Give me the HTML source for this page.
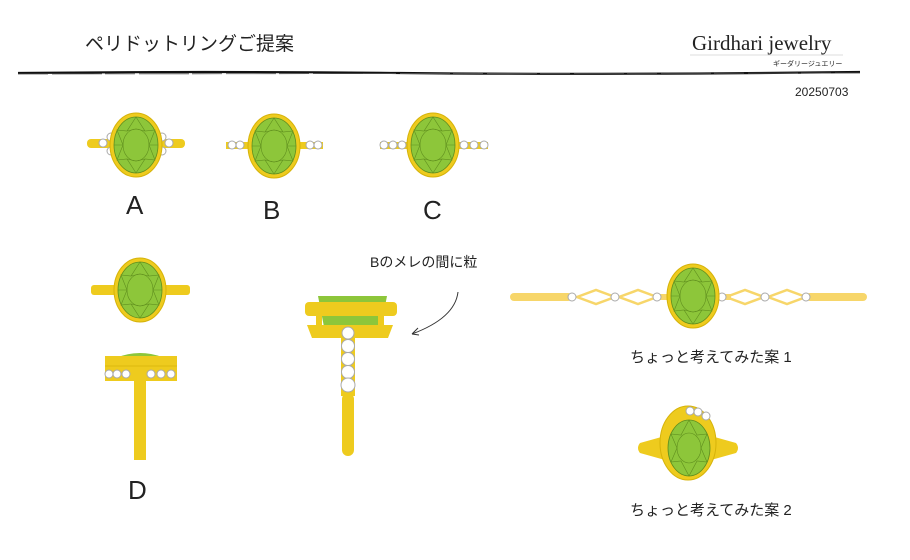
<!DOCTYPE html>
<html><head><meta charset="utf-8"><style>
html,body{margin:0;padding:0;background:#fff}
svg{display:block}
text{font-family:"Liberation Sans","Noto Sans CJK JP",sans-serif;fill:#222}
</style></head><body>
<svg width="910" height="560" viewBox="0 0 910 560" xmlns="http://www.w3.org/2000/svg">
<defs>
<g id="gem">
<ellipse rx="26" ry="32" fill="#eecb1e" stroke="#d6b30a" stroke-width="1"/>
<ellipse rx="22" ry="28" fill="#8dc63a" stroke="#5f8e1e" stroke-width="0.8"/>
<g fill="none" stroke="#5f8e1e" stroke-width="0.6">
<ellipse rx="13" ry="16"/>
<path d="M0,-28 L9,-14 L19,-15 L13,0 L19,15 L9,14 L0,28 L-9,14 L-19,15 L-13,0 L-19,-15 L-9,-14 Z"/>
<path d="M0,-16 L9,-14 M0,-16 L-9,-14 M13,0 L22,0 M-13,0 L-22,0 M0,16 L9,14 M0,16 L-9,14"/>
</g>
</g>
<g id="st"><circle r="4" fill="#fff" stroke="#aaa" stroke-width="1"/></g>
</defs>

<!-- header -->
<text x="85" y="50" font-size="19">ペリドットリングご提案</text>
<text x="692" y="50" font-size="21" style="font-family:'Liberation Serif',serif">Girdhari jewelry</text>
<line x1="690" y1="55" x2="843" y2="55" stroke="#ddd" stroke-width="1"/>
<text x="773" y="66" font-size="7">ギーダリージュエリー</text>
<path d="M18,73 Q200,71 400,73 T860,72" stroke="#111" stroke-width="2.2" fill="none"/>
<path d="M18,74 L860,73" stroke="#555" stroke-width="0.8" fill="none" stroke-dasharray="30 4 50 3"/>
<text x="795" y="96" font-size="12">20250703</text>

<!-- A -->
<rect x="87" y="139" width="98" height="9" rx="4" fill="#eecb1e"/>
<use href="#st" x="103" y="143"/><use href="#st" x="111" y="137"/><use href="#st" x="111" y="151"/>
<use href="#st" x="169" y="143"/><use href="#st" x="162" y="137"/><use href="#st" x="162" y="151"/>
<use href="#gem" x="136" y="145"/>
<text x="126" y="214" font-size="26">A</text>

<!-- B -->
<rect x="226" y="142" width="97" height="7" fill="#eecb1e"/>
<use href="#st" x="232" y="145"/><use href="#st" x="240" y="145"/><use href="#st" x="310" y="145"/><use href="#st" x="318" y="145"/>
<use href="#gem" x="274" y="146"/>
<text x="263" y="219" font-size="26">B</text>

<!-- C -->
<rect x="380" y="142" width="108" height="7" fill="#eecb1e"/>
<use href="#st" x="384" y="145"/><use href="#st" x="393" y="145"/><use href="#st" x="402" y="145"/>
<use href="#st" x="464" y="145"/><use href="#st" x="474" y="145"/><use href="#st" x="484" y="145"/>
<use href="#gem" x="433" y="145"/>
<text x="423" y="219" font-size="26">C</text>

<!-- D top -->
<rect x="91" y="285" width="99" height="10" rx="3" fill="#eecb1e"/>
<use href="#gem" x="140" y="290"/>
<!-- D side -->
<path d="M118,357 Q140,349 162,357 Z" fill="#8dc63a"/>
<rect x="105" y="356" width="72" height="8" fill="#eecb1e"/>
<rect x="105" y="364" width="72" height="17" fill="#eecb1e"/>
<line x1="105" y1="366" x2="177" y2="366" stroke="#c9a800" stroke-width="0.6"/>
<use href="#st" x="109" y="374"/><use href="#st" x="117" y="374"/><use href="#st" x="126" y="374"/>
<use href="#st" x="151" y="374"/><use href="#st" x="161" y="374"/><use href="#st" x="171" y="374"/>
<rect x="134" y="375" width="12" height="85" fill="#eecb1e"/>
<text x="128" y="499" font-size="26">D</text>

<!-- middle side -->
<path d="M318,296 L387,296 L380,332 L325,332 Z" fill="#8dc63a"/>
<rect x="305" y="302" width="92" height="14" rx="4" fill="#eecb1e"/>
<path d="M307,325 L393,325 L388,338 L312,338 Z" fill="#eecb1e"/>
<rect x="316" y="316" width="6" height="10" fill="#eecb1e"/><rect x="378" y="316" width="6" height="10" fill="#eecb1e"/>
<rect x="341" y="328" width="14" height="68" fill="#eecb1e"/>
<g><circle cx="348" cy="333" r="6" fill="#fff" stroke="#aaa"/><circle cx="348" cy="346" r="6.5" fill="#fff" stroke="#aaa"/><circle cx="348" cy="359" r="6.5" fill="#fff" stroke="#aaa"/><circle cx="348" cy="372" r="6.5" fill="#fff" stroke="#aaa"/><circle cx="348" cy="385" r="7" fill="#fff" stroke="#aaa"/></g>
<rect x="342" y="393" width="12" height="63" rx="6" fill="#eecb1e"/>
<text x="370" y="267" font-size="14">Bのメレの間に粒</text>
<path d="M458,292 Q455,318 412,334 M412,334 L418,328 M412,334 L419,335" stroke="#333" stroke-width="1" fill="none"/>

<!-- case 1 -->
<rect x="510" y="293" width="62" height="8" rx="4" fill="#f7d66a"/>
<rect x="806" y="293" width="61" height="8" rx="4" fill="#f7d66a"/>
<rect x="655" y="294" width="20" height="6" fill="#f7d66a"/>
<rect x="711" y="294" width="20" height="6" fill="#f7d66a"/>
<g fill="none" stroke="#f7d66a" stroke-width="2.5">
<path d="M577,297 L596,290 L615,297 L596,304 Z"/><path d="M619,297 L638,290 L657,297 L638,304 Z"/>
<path d="M726,297 L745,290 L764,297 L745,304 Z"/><path d="M768,297 L787,290 L806,297 L787,304 Z"/>
</g>
<use href="#st" x="572" y="297"/><use href="#st" x="615" y="297"/><use href="#st" x="657" y="297"/>
<use href="#st" x="722" y="297"/><use href="#st" x="765" y="297"/><use href="#st" x="806" y="297"/>
<use href="#gem" x="693" y="296"/>
<text x="630" y="362" font-size="15">ちょっと考えてみた案 1</text>

<!-- case 2 -->
<path d="M665,436 L640,443 Q636,448 640,453 L665,460 Z" fill="#eecb1e"/>
<path d="M711,436 L736,443 Q740,448 736,453 L711,460 Z" fill="#eecb1e"/>
<ellipse cx="688" cy="443" rx="28" ry="37" fill="#eecb1e" stroke="#d6b30a"/>
<g transform="translate(689,448)">
<ellipse rx="21" ry="28" fill="#8dc63a" stroke="#5f8e1e" stroke-width="0.8"/>
<g fill="none" stroke="#5f8e1e" stroke-width="0.6"><ellipse rx="12" ry="15"/><path d="M0,-28 L8,-13 L18,-14 L12,0 L18,14 L8,13 L0,28 L-8,13 L-18,14 L-12,0 L-18,-14 L-8,-13 Z"/></g>
</g>
<use href="#st" x="690" y="411"/><use href="#st" x="698" y="412"/><use href="#st" x="706" y="416"/>
<text x="630" y="515" font-size="15">ちょっと考えてみた案 2</text>
</svg>
</body></html>
